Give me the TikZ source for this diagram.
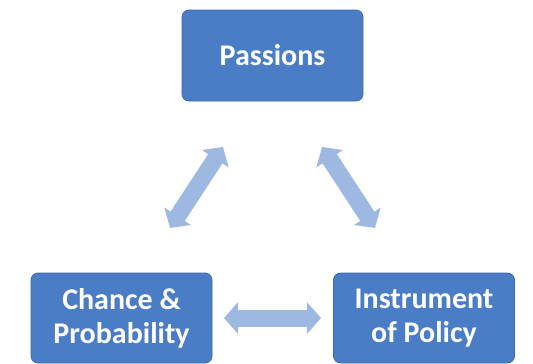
\documentclass[tikz,border=0pt]{standalone}
\usepackage{fontspec}
\setmainfont{Carlito}
\usetikzlibrary{arrows.meta}
\definecolor{boxblue}{HTML}{4A7DC6}
\definecolor{boxedge}{HTML}{3D6AAE}
\definecolor{arrowblue}{HTML}{9DB9E1}
\tikzset{
  box/.style={draw=boxedge, line width=0.8pt, fill=boxblue, rounded corners=7pt,
    inner sep=0pt, align=center, text=white,
    minimum width=181pt, minimum height=90pt,
    font=\fontsize{30}{34}\selectfont\bfseries},
  biarrow/.style={draw=arrowblue, line width=17pt,
    {Triangle[width=31pt,length=14pt]}-{Triangle[width=31pt,length=14pt]}}
}
\begin{document}
\begin{tikzpicture}[x=1pt,y=-1pt]
\useasboundingbox (0,0) rectangle (533,364);
\node[box, minimum height=91pt] (pass) at (272.5,55.5) {Passions};
\node[box] (chance) at (121.5,318) {Chance \&\\Probability};
\node[box] (instr) at (424,318) {Instrument\\of Policy};
\coordinate (l1) at (170,228);
\coordinate (l2) at (223,147);
\coordinate (r1) at (322,147);
\coordinate (r2) at (375,228);
\coordinate (h1) at (224,318);
\coordinate (h2) at (321,318);
\draw[biarrow] (l1) -- (l2);
\draw[biarrow] (r1) -- (r2);
\draw[biarrow] (h1) -- (h2);
\end{tikzpicture}
\end{document}
